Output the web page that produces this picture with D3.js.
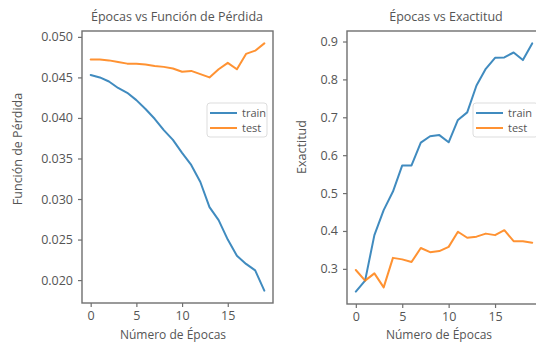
<!DOCTYPE html>
<html>
<head>
<meta charset="utf-8">
<script src="https://cdn.jsdelivr.net/npm/d3@7"></script>
<style>
  html, body { margin: 0; padding: 0; background: #fff; }
  svg { display: block; }
  text { font-family: "Open Sans", "Noto Sans", sans-serif; fill: #555; }
</style>
</head>
<body>
<svg id="chart" width="536" height="345"></svg>
<script>
// Training history: 20 epochs
const epochs = d3.range(20);
const lossTrain = [0.0453, 0.0450, 0.0445, 0.0437, 0.0431, 0.0422, 0.0411, 0.0399, 0.0385, 0.0373,
                   0.0357, 0.0342, 0.0321, 0.0290, 0.0274, 0.0250, 0.0230, 0.0220, 0.0212, 0.0187];
const lossTest  = [0.0472, 0.0472, 0.0471, 0.0469, 0.0467, 0.0467, 0.0466, 0.0464, 0.0463, 0.0461,
                   0.0457, 0.0458, 0.0454, 0.0450, 0.0460, 0.0468, 0.0460, 0.0479, 0.0483, 0.0492];
const accTrain  = [0.240, 0.269, 0.389, 0.455, 0.504, 0.573, 0.573, 0.633, 0.650, 0.653,
                   0.634, 0.693, 0.713, 0.784, 0.828, 0.857, 0.858, 0.871, 0.851, 0.895];
const accTest   = [0.297, 0.269, 0.288, 0.251, 0.329, 0.325, 0.318, 0.355, 0.344, 0.347,
                   0.358, 0.398, 0.382, 0.385, 0.393, 0.389, 0.402, 0.373, 0.373, 0.369];

const xTicks = [0, 5, 10, 15];
const lossTicks = [0.020, 0.025, 0.030, 0.035, 0.040, 0.045, 0.050];
const accTicks = [0.3, 0.4, 0.5, 0.6, 0.7, 0.8, 0.9];
const seriesNames = ["train", "test"];
const seriesColors = ["#1f77b4", "#ff7f0e"];

const svg = d3.select("#chart");

// Pad a data extent by 5% on each side
function padded(ext) {
  const m = (ext[1] - ext[0]) * 0.05;
  return [ext[0] - m, ext[1] + m];
}

function drawPanel(cfg) {
  const { left, right, top, bottom } = cfg.box;
  const x = d3.scaleLinear().domain(padded(d3.extent(epochs))).range([left, right]);
  const allVals = cfg.series.flat();
  const y = d3.scaleLinear().domain(padded(d3.extent(allVals))).range([bottom, top]);

  const g = svg.append("g");

  // lines
  const line = d3.line().x((d, i) => x(epochs[i])).y(d => y(d));
  cfg.series.forEach((s, i) => {
    g.append("path")
      .datum(s)
      .attr("d", line)
      .attr("fill", "none")
      .attr("stroke", seriesColors[i])
      .attr("stroke-width", 2)
      .attr("stroke-opacity", 0.85)
      .attr("stroke-linejoin", "round")
      .attr("stroke-linecap", "round");
  });

  // frame
  g.append("rect")
    .attr("x", left).attr("y", top)
    .attr("width", right - left).attr("height", bottom - top)
    .attr("fill", "none").attr("stroke", "#6f6f6f").attr("stroke-width", 1.4);

  // axes
  const xAxis = g.append("g")
    .attr("transform", `translate(0,${bottom})`)
    .call(d3.axisBottom(x).tickValues(xTicks).tickSize(4).tickPadding(4).tickFormat(d3.format("d")));
  const yAxis = g.append("g")
    .attr("transform", `translate(${left},0)`)
    .call(d3.axisLeft(y).tickValues(cfg.yTicks).tickSize(4).tickPadding(5).tickFormat(d3.format(cfg.yFormat)));
  [xAxis, yAxis].forEach(a => {
    a.select(".domain").remove();
    a.selectAll(".tick line").attr("stroke", "#6f6f6f").attr("stroke-width", 1.2);
    a.selectAll(".tick text").attr("font-size", 12.5).attr("fill", "#555")
      .attr("font-family", "'Open Sans', 'Noto Sans', sans-serif");
  });

  // title and labels
  g.append("text").attr("x", cfg.titleX).attr("y", 21)
    .attr("text-anchor", "middle").attr("font-size", 12.5).text(cfg.title);
  g.append("text").attr("x", cfg.xLabelX).attr("y", 339)
    .attr("text-anchor", "middle").attr("font-size", 12).text("Número de Épocas");
  g.append("text")
    .attr("transform", `translate(${cfg.yLabelX},${cfg.yLabelY}) rotate(-90)`)
    .attr("text-anchor", "middle").attr("font-size", 12.5).text(cfg.yLabel);

  // legend
  const lg = g.append("g").attr("transform", `translate(${cfg.legend[0]},${cfg.legend[1]})`);
  lg.append("rect").attr("width", cfg.legendW).attr("height", 34).attr("rx", 3)
    .attr("fill", "#fff").attr("fill-opacity", 0.85).attr("stroke", "#ddd");
  seriesNames.forEach((n, i) => {
    const yy = 10 + i * 15;
    lg.append("line").attr("x1", 3).attr("x2", 30).attr("y1", yy).attr("y2", yy)
      .attr("stroke", seriesColors[i]).attr("stroke-width", 2).attr("stroke-opacity", 0.85);
    lg.append("text").attr("x", 35).attr("y", yy + 4)
      .attr("font-size", 11).attr("fill", "#333").text(n);
  });
}

drawPanel({
  box: { left: 82, right: 273, top: 31, bottom: 303 },
  series: [lossTrain, lossTest],
  yTicks: lossTicks, yFormat: ".3f",
  title: "Épocas vs Función de Pérdida", titleX: 177,
  xLabelX: 173, yLabel: "Función de Pérdida", yLabelX: 22, yLabelY: 149,
  legend: [207, 103], legendW: 60
});

drawPanel({
  box: { left: 347, right: 541, top: 31, bottom: 304 },
  series: [accTrain, accTest],
  yTicks: accTicks, yFormat: ".1f",
  title: "Épocas vs Exactitud", titleX: 446,
  xLabelX: 439, yLabel: "Exactitud", yLabelX: 306, yLabelY: 147,
  legend: [473, 103], legendW: 65
});
</script>
</body>
</html>
